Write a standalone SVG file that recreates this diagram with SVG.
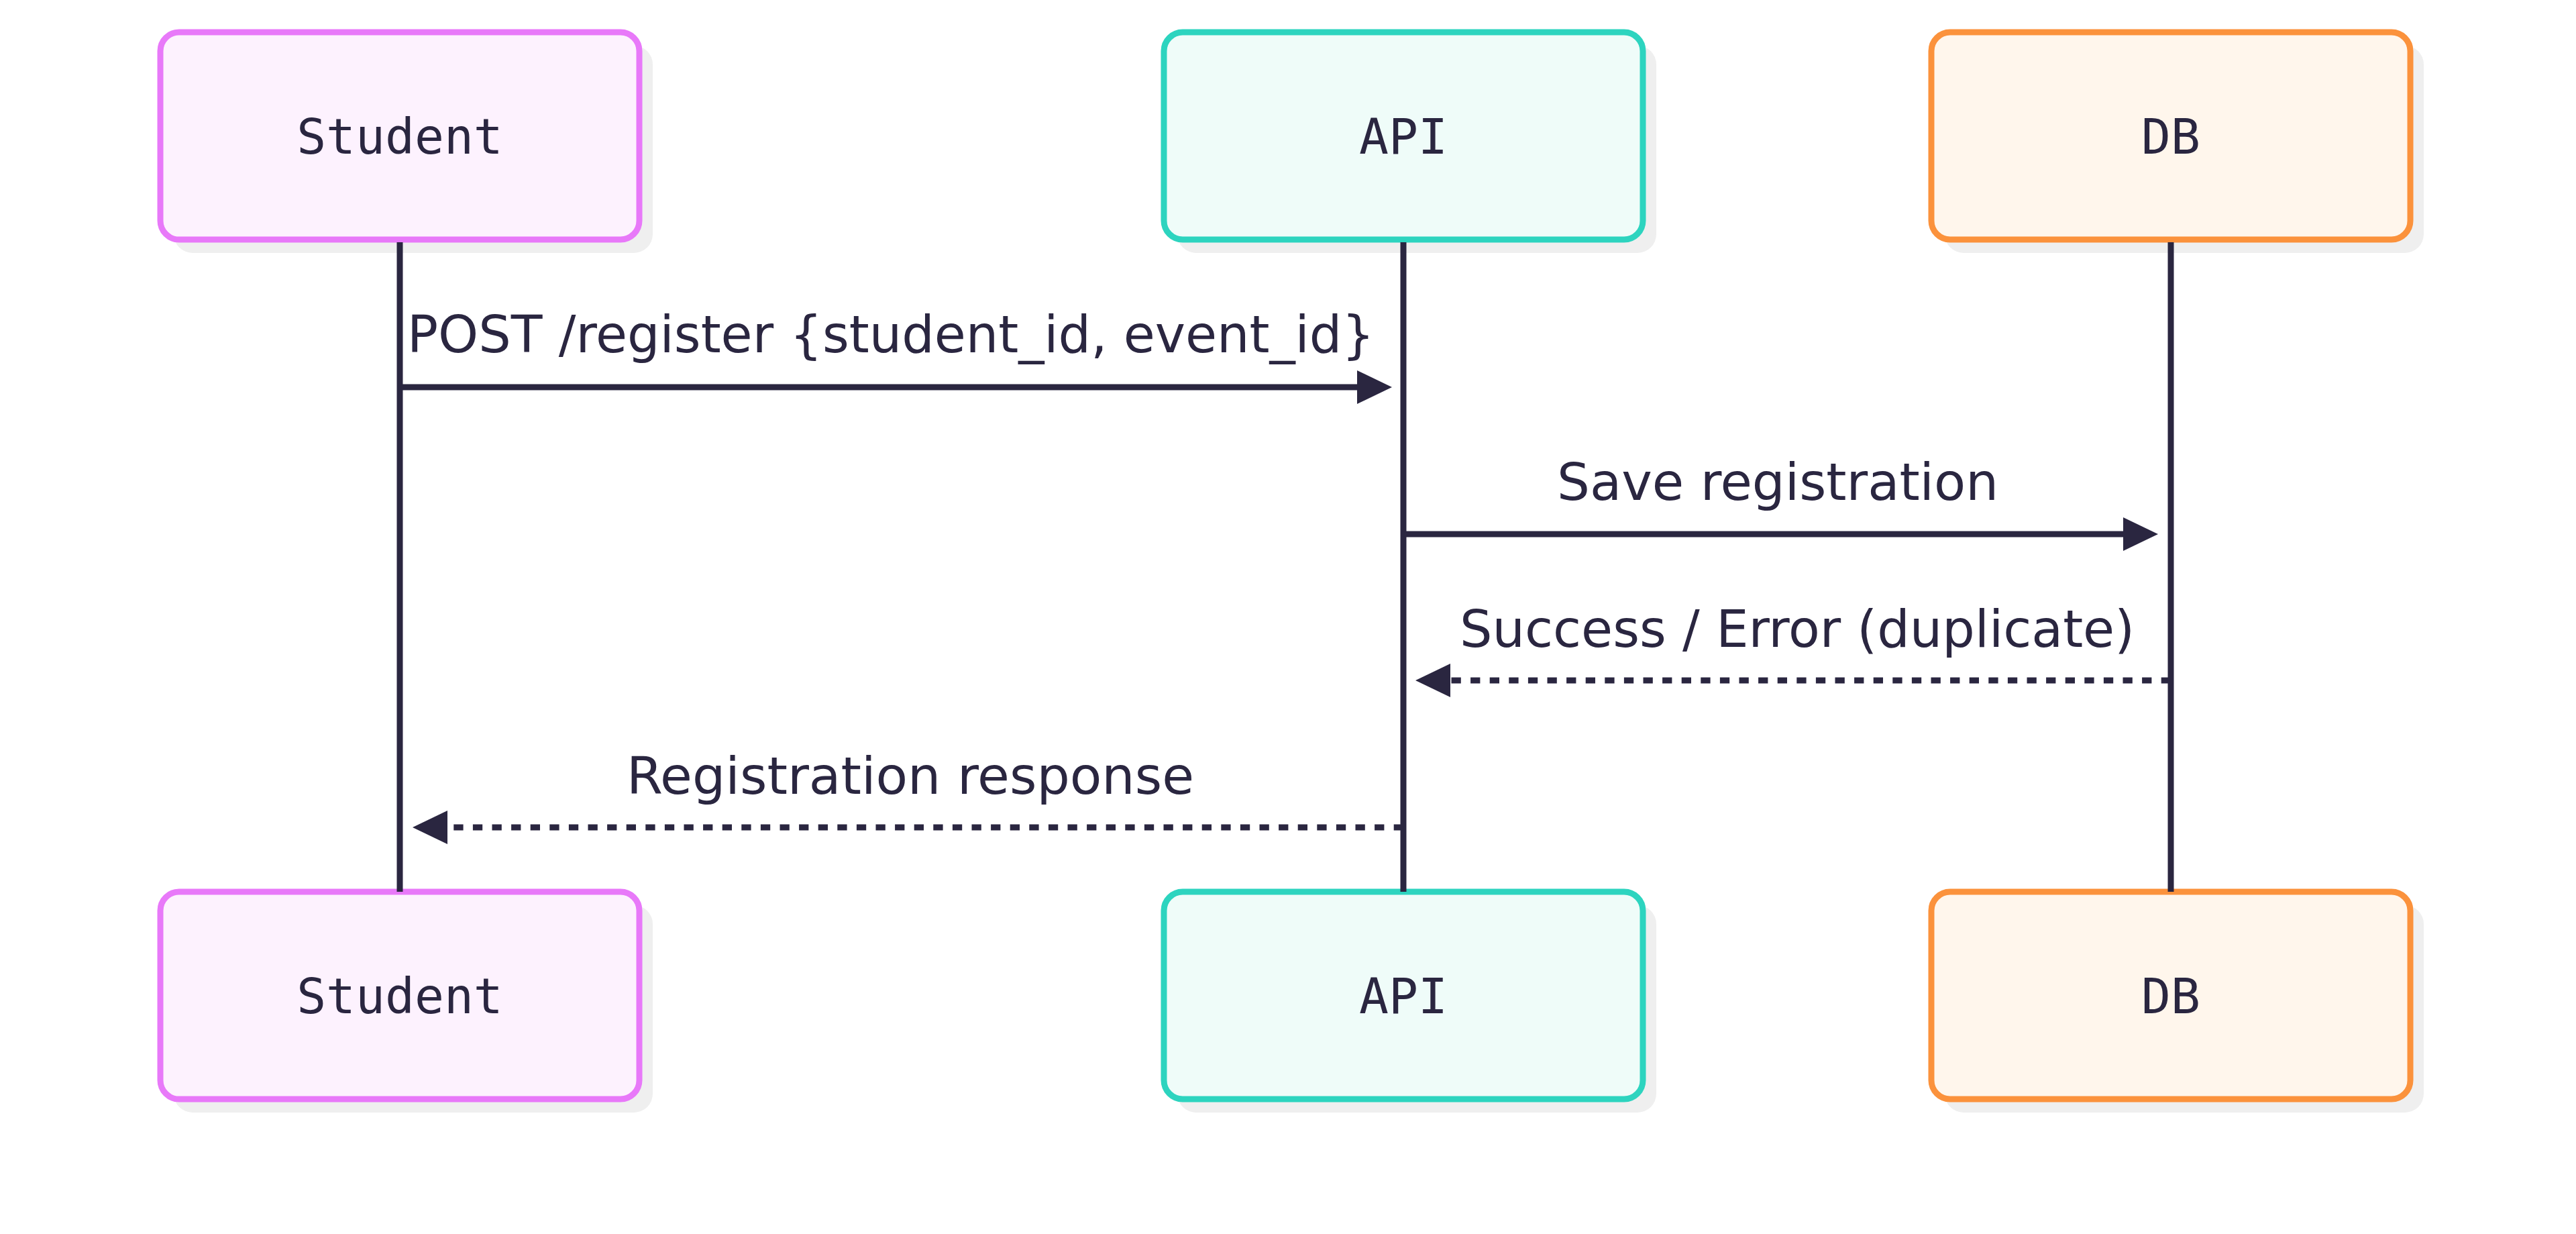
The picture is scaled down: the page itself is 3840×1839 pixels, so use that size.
<svg xmlns="http://www.w3.org/2000/svg" width="3840" height="1839" viewBox="0 0 3840 1839">
<style>
.shadow{fill:#efefef;stroke:none}
.box{stroke-width:9}
.student{fill:#fdf2fe;stroke:#e879f9}
.api{fill:#effcf9;stroke:#2dd4bf}
.db{fill:#fff6ec;stroke:#fb923c}
.nlabel{font-family:"DejaVu Sans Mono","Liberation Mono",monospace;font-size:73px;fill:#2a2640;text-anchor:middle}
.mlabel{font-family:"DejaVu Sans Condensed","DejaVu Sans","Liberation Sans",sans-serif;font-stretch:condensed;font-size:77px;fill:#2a2640;text-anchor:middle}
.life{stroke:#2a2640;stroke-width:9;fill:none}
.msg{stroke:#2a2640;stroke-width:9;fill:none;marker-end:url(#arrow)}
.dash{stroke-dasharray:14.3 14.3}
</style>
<defs>
<marker id="arrow" markerUnits="userSpaceOnUse" viewBox="0 0 52 50" refX="10" refY="25" markerWidth="52" markerHeight="50" orient="auto">
<path d="M0,0 L52,25 L0,50 Z" fill="#2a2640"/>
</marker>
</defs>
<rect width="3840" height="1839" fill="#ffffff"/>
<g id="student-top">
<rect class="shadow" x="259" y="68" width="714" height="309" rx="28"/>
<rect class="box student" x="239" y="48" width="714" height="309" rx="28"/>
<text class="nlabel" x="596" y="229">Student</text>
</g>
<g id="api-top">
<rect class="shadow" x="1755" y="68" width="714" height="309" rx="28"/>
<rect class="box api" x="1735" y="48" width="714" height="309" rx="28"/>
<text class="nlabel" x="2092" y="229">API</text>
</g>
<g id="db-top">
<rect class="shadow" x="2899" y="68" width="714" height="309" rx="28"/>
<rect class="box db" x="2879" y="48" width="714" height="309" rx="28"/>
<text class="nlabel" x="3236" y="229">DB</text>
</g>
<g id="student-bottom">
<rect class="shadow" x="259" y="1349" width="714" height="309" rx="28"/>
<rect class="box student" x="239" y="1329" width="714" height="309" rx="28"/>
<text class="nlabel" x="596" y="1510">Student</text>
</g>
<g id="api-bottom">
<rect class="shadow" x="1755" y="1349" width="714" height="309" rx="28"/>
<rect class="box api" x="1735" y="1329" width="714" height="309" rx="28"/>
<text class="nlabel" x="2092" y="1510">API</text>
</g>
<g id="db-bottom">
<rect class="shadow" x="2899" y="1349" width="714" height="309" rx="28"/>
<rect class="box db" x="2879" y="1329" width="714" height="309" rx="28"/>
<text class="nlabel" x="3236" y="1510">DB</text>
</g>
<g id="connectors">
<line class="life" x1="596" y1="361" x2="596" y2="1329"/>
<line class="life" x1="2092" y1="361" x2="2092" y2="1329"/>
<line class="life" x1="3236" y1="361" x2="3236" y2="1329"/>
<line class="msg" x1="596" y1="577" x2="2033" y2="577"/>
<line class="msg" x1="2092" y1="796" x2="3175" y2="796"/>
<line class="msg dash" x1="3236" y1="1014" x2="2152" y2="1014"/>
<line class="msg dash" x1="2092" y1="1233" x2="657" y2="1233"/>
<text class="mlabel" x="1328" y="525" textLength="1442" lengthAdjust="spacingAndGlyphs">POST /register {student_id, event_id}</text>
<text class="mlabel" x="2650" y="745" textLength="658" lengthAdjust="spacingAndGlyphs">Save registration</text>
<text class="mlabel" x="2679" y="964" textLength="1006" lengthAdjust="spacingAndGlyphs">Success / Error (duplicate)</text>
<text class="mlabel" x="1357" y="1183" textLength="846" lengthAdjust="spacingAndGlyphs">Registration response</text>
</g>
</svg>
